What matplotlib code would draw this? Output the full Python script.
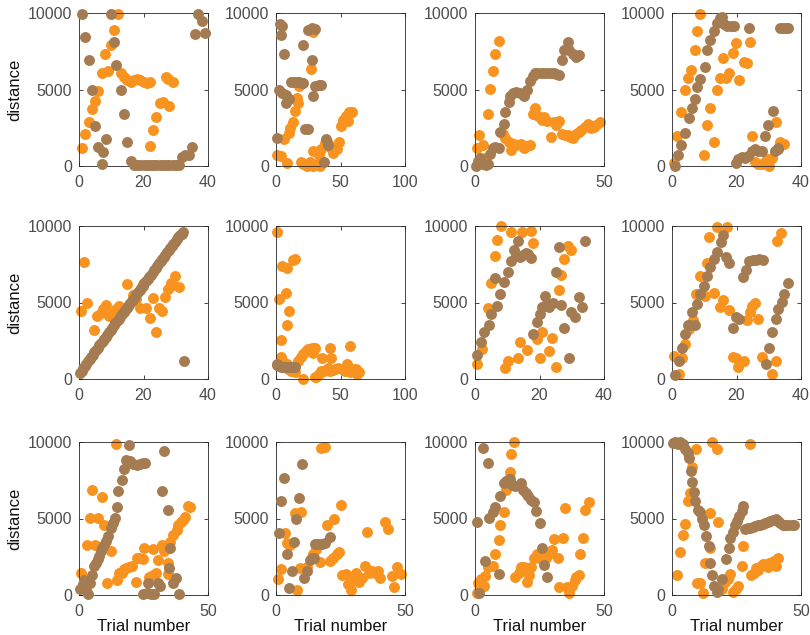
import matplotlib.pyplot as plt
import numpy as np

plt.rcParams['font.family'] = ['Liberation Sans', 'DejaVu Sans']

ORANGE = '#F7931E'
BROWN = '#A57C52'

# ---- row 1 ----
p1_orange = [(1, 1150), (2, 2100), (3, 2900), (4, 3700), (5, 4250), (6, 4900), (7, 6100), (8, 7300),
             (9, 6200), (10, 7900), (11, 8900), (12, 9950), (13, 6100), (14, 5800), (15, 5600), (16, 5500),
             (17, 5600), (18, 5700), (19, 5600), (20, 5500), (21, 5400), (22, 5500), (22, 1300), (23, 2350),
             (24, 3200), (25, 4100), (26, 4200), (27, 5800), (27.5, 5700), (28, 3900), (29, 5500)]
p1_brown = [(1, 9950), (2, 8450), (3, 6900), (4, 4950), (5, 2600), (6, 1250), (7.5, 900), (7, 150),
            (8.5, 1750), (10, 9950), (11, 8100), (11.5, 6600), (13, 4950), (14, 3400), (15, 1600), (16, 350),
            (17, 50), (18, 50), (19, 50), (20, 50), (21, 50), (22, 50), (23, 50), (24, 50), (25, 50),
            (26, 50), (27, 50), (28, 50), (29, 50), (30, 50), (31, 50), (32, 600), (33, 700), (34, 700),
            (35, 1250), (36, 8600), (37, 9950), (38, 9500), (39, 8700)]

p2_orange = [(1, 700), (4, 650), (6, 1750), (8.5, 200), (10, 2150), (11, 2500), (13, 2900), (15, 3600),
             (17, 4100), (16, 4450), (18, 5200), (19.5, 250), (21, 100), (24, 0), (26, 250), (29, 0),
             (31.5, 100), (34, 0), (27, 6350), (28.5, 8750), (28.5, 950), (33, 750), (35, 1100), (38, 1500),
             (40.5, 1500), (42.5, 1150), (44.5, 850), (47, 1100), (49, 1600), (50, 2600), (52, 3000),
             (54, 3250), (56.5, 3500), (59, 3500), (56, 2950)]
p2_brown = [(3, 9300), (5, 9150), (4, 8550), (6, 7300), (2, 4950), (5, 4800), (8, 4650), (10, 4350),
            (8, 4100), (1, 1850), (12, 5500), (14, 5500), (16, 5500), (18, 5500), (20, 5450), (21, 5400),
            (21, 7900), (25, 8900), (28, 9050), (30, 8950), (28, 6950), (30, 5250), (33, 5300), (35, 5300),
            (29, 4550), (22.5, 2450), (25, 2450), (39, 1750), (40, 1350), (37, 250)]

p3_orange = [(0.7, 1200), (1.7, 2000), (3, 1350), (4, 550), (5, 3400), (5.9, 5050), (7, 6200), (7.9, 7300),
             (9.2, 8200), (10.7, 2100), (11.8, 1800), (13, 1600), (14, 1050), (15, 1450), (16, 1350),
             (17.7, 1450), (19, 1150), (20.3, 1300), (21.2, 1400), (22.3, 3400), (23.3, 3800), (24.6, 3300),
             (25.8, 3000), (26.8, 3200), (28, 2950), (29.5, 1900), (30.5, 2900), (31.5, 2650), (32.7, 2950),
             (33.6, 2100), (34.7, 2000), (36, 2000), (37, 1900), (38, 1850), (39, 2100), (40.2, 2200),
             (41.2, 2350), (42.5, 2550), (43.8, 2750), (45, 2500), (46.2, 2550), (47, 2650), (48.4, 2850)]
p3_brown = [(0.4, 0), (1.3, 300), (2, 500), (3, 150), (4.3, 50), (5.2, 100), (5.9, 800), (6.8, 1150),
            (7.8, 1250), (9.2, 1150), (9.8, 2200), (11.1, 2750), (11.8, 3500), (13, 4200), (13.7, 4600),
            (14.8, 4800), (16, 4850), (17.4, 4750), (19, 4600), (20.3, 5000), (21.3, 5550), (22.3, 5900),
            (23.3, 6050), (24.2, 6100), (25.5, 6100), (26.8, 6100), (28.1, 6100), (29.5, 6050), (30.5, 6050),
            (31.4, 6000), (32.5, 5950), (33.6, 6900), (34.4, 7550), (36, 8100), (36.6, 7550), (38, 7300),
            (39, 7150), (40.3, 7250)]

p4_orange = [(0.5, 200), (1.5, 1950), (2.8, 3500), (3.9, 5000), (4.9, 5750), (6, 6300), (7, 7600),
             (7.7, 8800), (8.8, 9950), (9.8, 700), (11, 2700), (11.9, 3800), (13.1, 1600), (14.1, 5000),
             (14.9, 5750), (15.8, 7050), (16.8, 5750), (17.8, 6050), (18.9, 7400), (19.9, 8050), (20.9, 5650),
             (22.2, 6800), (23.2, 6700), (24.2, 8100), (24.7, 1950), (25.8, 250), (26.8, 150), (27.8, 100),
             (28.7, 250), (29.4, 450), (30.2, 0), (31, 550), (32.2, 2900), (33.5, 1600), (34.8, 1450)]
p4_brown = [(0.8, 0), (1.8, 700), (2.9, 1350), (3.9, 2150), (5.2, 3150), (6.2, 3800), (7.2, 4400),
            (7.7, 5150), (8.8, 5700), (10.1, 6500), (11, 7600), (11.9, 8250), (12.9, 8850), (14.1, 9350),
            (14.9, 9650), (15.5, 9750), (16.2, 9250), (17.2, 9150), (18.2, 9150), (19.3, 9150), (24, 9050),
            (19.8, 200), (20.6, 450), (21.6, 600), (22.7, 550), (23.7, 650), (24.7, 950), (25.8, 1100),
            (26.8, 1000), (27.8, 1000), (28.9, 1950), (29.9, 2650), (31.2, 3600), (32, 1000), (32.8, 1100),
            (33, 1200), (33.5, 9050), (34.5, 9000), (35.4, 9050), (36.1, 9050)]

# ---- row 2 ----
p5_orange = [(0.5, 4450), (1.5, 7650), (2.6, 5000), (4.7, 3200), (5.7, 4100), (6.8, 4300), (7.5, 4600),
             (8.5, 4850), (9.4, 4100), (10.4, 4300), (11.5, 4550), (12.5, 4750), (14.8, 6200), (15.6, 4850),
             (16.7, 5500), (17.7, 5200), (18.8, 4650), (19.8, 6200), (20.8, 4650), (21.9, 4000), (22.9, 5300),
             (24, 3100), (24.7, 4650), (25.7, 4450), (26.6, 5350), (27.6, 5900), (28.6, 6300), (29, 6150),
             (29.9, 6750), (30.9, 6000)]
p5_brown = [(0.3, 370), (0.8, 520), (1.3, 700), (1.8, 850), (2.3, 1000), (2.8, 1150), (3.3, 1300),
            (3.8, 1450), (4.3, 1600), (4.8, 1750), (5.3, 1900), (5.8, 2050), (6.3, 2200), (6.8, 2330),
            (7.3, 2480), (7.8, 2620), (8.3, 2770), (8.8, 2900), (9.3, 3050), (9.8, 3200), (10.3, 3350),
            (10.8, 3500), (11.3, 3640), (11.8, 3790), (12.3, 3930), (12.8, 4080), (13.3, 4220), (13.8, 4370),
            (14.3, 4500), (14.8, 4650), (15.3, 4800), (15.8, 4950), (16.3, 5100), (16.8, 5230), (17.3, 5380),
            (17.8, 5530), (18.3, 5670), (18.8, 5820), (19.3, 5960), (19.8, 6100), (20.3, 6250), (20.8, 6400),
            (21.3, 6530), (21.8, 6680), (22.3, 6820), (22.8, 6970), (23.3, 7110), (23.8, 7260), (24.3, 7400),
            (24.8, 7550), (25.3, 7690), (25.8, 7840), (26.3, 7980), (26.8, 8120), (27.3, 8270), (27.8, 8410),
            (28.3, 8560), (28.8, 8700), (29.3, 8840), (29.8, 8980), (30.3, 9120), (30.8, 9260), (31.3, 9400),
            (31.8, 9500), (32.3, 9600), (32.6, 1200)]

p6_orange = [(1, 9600), (2, 5250), (4.4, 7400), (8.3, 7250), (7.8, 5600), (10.3, 4450), (8.8, 3500),
             (12.9, 7800), (14.7, 7850), (3.6, 2550), (3.6, 1450), (5, 1250), (8.3, 950), (9.6, 650),
             (12, 550), (14.7, 450), (17.3, 1200), (19.4, 1450), (21, 1650), (23, 1850), (25, 1950),
             (27.6, 2000), (30, 2000), (29, 1700), (21, 0), (31, 100), (33, 300), (35, 550), (37, 550),
             (40, 750), (42, 550), (44, 600), (46, 650), (48, 700), (51, 650), (53.5, 550), (55, 950),
             (57.5, 450), (59.5, 650), (62, 650), (64.5, 450), (62.5, 300), (35.5, 1350), (42, 2050),
             (43, 1350), (57, 2150), (30, 150)]
p6_brown = [(0.5, 950), (0.5, 900), (2, 850), (4, 800), (6, 800), (8, 800), (10, 800), (12, 800),
            (14, 800), (15, 800)]

p7_orange = [(0.7, 1000), (2.1, 1950), (4, 4650), (5, 6250), (6.1, 8050), (6.8, 9100), (8.1, 10000),
             (9.2, 700), (10.2, 1150), (11.2, 9600), (13.3, 1350), (13.9, 2450), (14.7, 9600), (17.3, 9700),
             (16, 1900), (18.1, 8900), (19.1, 2600), (20.2, 1350), (20.9, 3100), (22.8, 1800), (23.9, 2700),
             (25.1, 800), (26.2, 5800), (26.7, 6800), (27.7, 7850), (28.8, 8700), (29.8, 8400)]
p7_brown = [(0.7, 1550), (1.8, 2400), (2.8, 3050), (4.2, 3550), (5, 4250), (6.8, 4800), (7.9, 5550),
            (6.3, 6600), (8.9, 6350), (10.2, 7000), (11.2, 7700), (12.1, 8450), (13.3, 9000), (12.6, 8050),
            (13.8, 7950), (14.9, 8100), (15.7, 8250), (16.4, 8150), (17.3, 7900), (18, 2950), (19.2, 3700),
            (20.2, 4250), (20.7, 4700), (21.7, 5400), (22.3, 4950), (23, 4700), (24.1, 5000), (25.1, 7000),
            (26.2, 8600), (26.7, 4850), (27.7, 3350), (29, 1350), (29.8, 4400), (31.1, 4050), (32.2, 5350),
            (33.2, 4700), (34, 9000)]

p8_orange = [(0.7, 1500), (2.1, 350), (3.1, 1400), (4.1, 2300), (5.2, 3300), (6.5, 3850), (7.4, 5550),
             (8.8, 6700), (10.1, 5400), (10.8, 7600), (11.6, 9250), (13.1, 5650), (14.1, 9950), (17, 9950),
             (15, 4700), (15.7, 5150), (17.8, 4500), (18.9, 1450), (19.9, 1350), (20.6, 800), (22.2, 1150),
             (23.2, 3850), (24.2, 4400), (24.7, 4800), (25.8, 4950), (26.8, 3950), (27.8, 1450), (30.9, 350),
             (32.3, 1150), (32.7, 9050), (33.8, 9550)]
p8_brown = [(0.8, 250), (2.1, 1150), (3.1, 2050), (3.9, 2950), (4.9, 3550), (6.2, 4350), (5.7, 3550),
            (7.2, 3500), (7.7, 4900), (8.8, 5550), (9.8, 6100), (11, 6700), (11.9, 7300), (12.9, 7850),
            (14.1, 8300), (15.2, 8950), (15.8, 9400), (16.8, 7950), (17.8, 7600), (18.9, 3350), (19.8, 4050),
            (20.8, 3950), (21.9, 6650), (22.9, 7100), (24, 7700), (25, 7750), (26, 7750), (27.1, 7850),
            (28.1, 7800), (29.2, 1000), (30.1, 2050), (31.1, 3050), (32.2, 3950), (32.8, 4600), (34, 5050),
            (34.8, 5550), (36.1, 6250)]

# ---- row 3 ----
p9_orange = [(0.6, 1450), (3, 3300), (4.3, 5050), (4.9, 6850), (7.5, 5050), (6.2, 3250), (8.8, 6400),
             (9.8, 4550), (10.7, 800), (12.4, 2850), (14.3, 9850), (14.6, 950), (15.6, 1450), (16.5, 1450),
             (17.5, 1700), (18.4, 1750), (19.5, 1800), (20.6, 1900), (22.3, 2450), (23.3, 2400), (24.9, 2350),
             (22, 850), (25.3, 3100), (28.7, 3000), (27.2, 1150), (28.5, 1300), (30, 1450), (30.7, 2300),
             (32.2, 3300), (33, 2850), (34.2, 3100), (34.5, 2100), (34.5, 1350), (35.4, 3450), (36.5, 3950),
             (37.8, 4250), (38.4, 4550), (39.4, 4800), (40.3, 4900), (41, 5100), (42.3, 5800), (42.9, 5750)]
p9_brown = [(0.4, 400), (1.4, 700), (2.1, 950), (2.7, 300), (3.4, 50), (4.3, 800), (4.9, 1300), (5.9, 1900),
            (6.6, 2100), (7.2, 2350), (7.9, 2550), (8.5, 2900), (9.1, 3100), (9.8, 3300), (10.4, 3500),
            (11.3, 3850), (12.4, 4400), (13.3, 4700), (13.9, 5050), (14.6, 5750), (15.2, 6800), (16.5, 7500),
            (17.5, 8250), (18.4, 8850), (19.3, 9800), (19.7, 8750), (21, 8550), (22.3, 8500), (23.6, 8550),
            (24.9, 8650), (25.5, 8600), (24.9, 50), (26.2, 150), (26.8, 800), (27.8, 50), (29.1, 50),
            (30.7, 800), (31.3, 600), (32.2, 6800), (32.9, 9400), (34.5, 5550), (35.2, 3100), (34.8, 1750),
            (36.5, 800), (37.5, 1100), (38.8, 50)]

p10_orange = [(0.9, 1050), (1.8, 1700), (3.5, 4050), (4.1, 3400), (5.4, 3250), (7.4, 5350), (9.7, 5450),
              (8, 300), (9.3, 1750), (11.9, 1800), (14.2, 2650), (15.5, 3000), (17, 2150), (17.4, 9600),
              (19, 9700), (19.6, 4550), (20.9, 2200), (22.5, 5000), (22.2, 2400), (23.5, 2650), (24.4, 2800),
              (25.1, 5850), (25.5, 1300), (27.1, 1350), (27.8, 750), (29, 300), (30, 950), (31, 1450),
              (32.2, 850), (33.2, 1100), (34.5, 1900), (35.4, 4100), (36, 1450), (37.1, 1600), (38.4, 1450),
              (39.7, 1600), (40.3, 1100), (42.2, 4800), (43.3, 4300), (44.8, 1250), (45.7, 550), (46.8, 1800),
              (48.3, 1350)]
p10_brown = [(1.2, 4050), (2, 6150), (3.1, 7650), (4.1, 2650), (5, 450), (6.3, 1600), (7, 3450), (7.8, 5000),
             (9, 6350), (9.9, 8550), (10.9, 1100), (12, 1550), (13, 2300), (13.8, 2400), (14.9, 2400),
             (15.1, 3350), (16.4, 3350), (17.7, 3350), (19, 3400), (20.9, 3800)]

p11_orange = [(0.7, 100), (1.3, 800), (2.4, 1050), (3.3, 600), (3.9, 1250), (5.2, 1800), (6.8, 1900),
              (7.9, 2650), (9.2, 3600), (9.8, 4600), (11.1, 5400), (12, 6850), (13.4, 8050), (14, 9200),
              (15.3, 10000), (15.4, 1200), (17, 1450), (17.7, 1850), (19, 1850), (20, 850), (21, 1300),
              (21.6, 1800), (22.9, 2450), (24, 2650), (24.9, 2400), (26.2, 2800), (27.5, 2450), (28.8, 2650),
              (29.8, 2950), (30.5, 3650), (32.1, 2400), (32.7, 550), (34, 3700), (35, 5700), (35.7, 500),
              (36.6, 150), (37.7, 600), (38.6, 950), (39.3, 1150), (40.2, 1300), (40.6, 2650), (41.9, 3750),
              (42.5, 5550), (44.1, 6050)]
p11_brown = [(0.7, 4800), (1.6, 100), (3, 9600), (3.9, 2200), (5, 8600), (5.5, 5050), (6.8, 5400),
             (7.9, 5750), (9.2, 1400), (9.8, 6500), (11.1, 7300), (12, 7450), (13.1, 7600), (13.7, 7550),
             (14.4, 7200), (15.4, 7150), (17.7, 7300), (18.6, 6850), (19.6, 6650), (20.7, 6450), (21.6, 6200),
             (22.9, 6050), (23.8, 5500), (25.3, 4700), (25.9, 3100), (26.6, 1950), (28.1, 1200)]

p12_orange = [(1.9, 1300), (3.2, 2800), (4.3, 3900), (5.2, 4650), (6.1, 6150), (7.1, 6650), (7.7, 8350),
              (9.3, 9550), (9.7, 800), (11, 800), (12.2, 150), (12.9, 2100), (14.8, 5350), (14.6, 3100),
              (15.5, 10000), (17.4, 9550), (17.8, 4800), (19.3, 400), (20.6, 850), (21.6, 1050), (22.6, 1400),
              (23.8, 200), (24.7, 400), (25.4, 600), (27.1, 1900), (27.7, 3200), (30.3, 9900), (30.7, 1300),
              (31.8, 1450), (32.6, 1750), (33.5, 1650), (34.5, 1900), (35.4, 2000), (36.3, 1950), (37.1, 1800),
              (37.6, 2100), (38.7, 2150), (39.7, 2250), (40.3, 1900), (41, 2400)]
p12_brown = [(0.4, 9950), (1.3, 10000), (2.3, 9900), (3.2, 10000), (4.3, 9850), (5.2, 9550), (6.1, 9300),
             (6.7, 8950), (7.3, 8100), (7.7, 7400), (8.4, 6700), (9, 6150), (9.9, 5550), (11, 5400), (11.6, 5000),
             (12.5, 4550), (13.3, 3850), (14.2, 3200), (14.8, 2100), (15.5, 1300), (16.4, 600), (17.4, 200),
             (18, 400), (19.3, 1050), (21, 2350), (21.9, 3100), (22.6, 3750), (23.5, 4100), (24.5, 4550),
             (25.1, 4850), (26, 5150), (27.1, 5500), (27.7, 5800), (28.4, 4300), (29.4, 4350), (30.3, 4400),
             (31.3, 4450), (32.2, 4500), (33.2, 4550), (34.1, 4600), (35.2, 4650), (36.1, 4700), (37.1, 4750),
             (38, 4850), (39, 4900), (40.2, 5000), (41, 4850), (41.9, 4700), (42.9, 4600), (43.8, 4600),
             (45.1, 4550), (46.4, 4550), (47.4, 4550)]

orange_sets = [p1_orange, p2_orange, p3_orange, p4_orange, p5_orange, p6_orange,
               p7_orange, p8_orange, p9_orange, p10_orange, p11_orange, p12_orange]
brown_sets = [p1_brown, p2_brown, p3_brown, p4_brown, p5_brown, p6_brown,
              p7_brown, p8_brown, p9_brown, p10_brown, p11_brown, p12_brown]
x_limits = [40, 100, 50, 40, 40, 100, 40, 40, 50, 50, 50, 50]
y_ticks = [0, 5000, 10000]

fig = plt.figure(figsize=(8.1, 6.35), dpi=100)
lefts = [79, 276, 475, 672]
tops = [13, 226, 442]
W, H = 129, 153

for i in range(12):
    r, c = divmod(i, 4)
    ax = fig.add_axes([lefts[c] / 810, 1 - (tops[r] + H) / 635, W / 810, H / 635])
    xmax = x_limits[i]
    o = np.array(orange_sets[i])
    b = np.array(brown_sets[i])
    ax.scatter(o[:, 0], o[:, 1], s=62, color=ORANGE, linewidths=0, clip_on=False, zorder=2)
    ax.scatter(b[:, 0], b[:, 1], s=62, color=BROWN, linewidths=0, clip_on=False, zorder=3)
    ax.set_xlim(0, xmax)
    ax.set_ylim(0, 10000)
    if xmax == 40:
        ax.set_xticks([0, 20, 40])
    elif xmax == 100:
        ax.set_xticks([0, 50, 100])
    else:
        ax.set_xticks([0, 50])
    ax.set_yticks(y_ticks)
    ax.tick_params(direction='in', top=True, right=True, length=3, width=0.6,
                   colors='#262626', labelcolor='#4d4d4d', labelsize=11.5)
    ax.tick_params(axis='x', pad=6.5)
    ax.tick_params(axis='y', pad=5)
    for sp in ax.spines.values():
        sp.set_color('#262626')
        sp.set_linewidth(0.6)
    if c == 0:
        ax.set_ylabel('distance', fontsize=12, color='#111111', labelpad=4)
    if r == 2:
        ax.set_xlabel('Trial number', fontsize=12, color='#111111', labelpad=0)

fig.savefig('out.png', dpi=100)
